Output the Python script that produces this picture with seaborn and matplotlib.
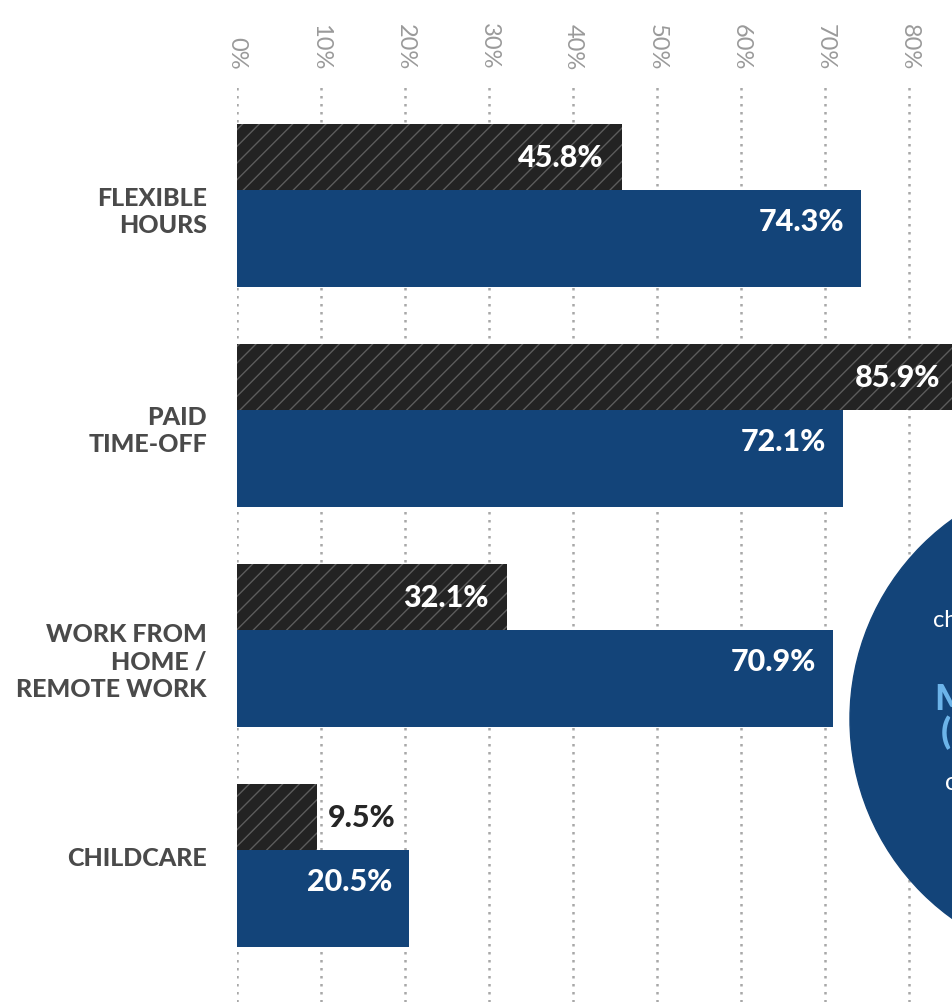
import matplotlib.pyplot as plt
import matplotlib.patches as mpatches
import numpy as np
import pandas as pd
import seaborn as sns

# values
categories = ["FLEXIBLE\nHOURS", "PAID\nTIME-OFF", "WORK FROM\nHOME /\nREMOTE WORK", "CHILDCARE"]
dark_values = [45.8, 85.9, 32.1, 9.5]
blue_values = [74.3, 72.1, 70.9, 20.5]
x_ticks = [0, 10, 20, 30, 40, 50, 60, 70, 80]

BLUE = "#134479"
DARK = "#232323"
LIGHT_BLUE = "#6cb4e9"

sns.set_theme(style="white")
plt.rcParams["font.family"] = ["Lato", "DejaVu Sans"]
plt.rcParams["hatch.linewidth"] = 1.0

W, H = 953, 1003
PX_PER_ROW = 220
fig = plt.figure(figsize=(W / 100, H / 100), dpi=100)
# axes: 0% at x=237px, 84px per 10%, top edge at y=88px
ax = fig.add_axes([237 / W, 0, 756 / W, 915 / H])

pos = np.arange(len(categories))
dark_df = pd.DataFrame({"value": dark_values, "pos": pos - 0.2205})
blue_df = pd.DataFrame({"value": blue_values, "pos": pos + 0.15})

sns.barplot(data=dark_df, x="value", y="pos", orient="y", native_scale=True,
            width=0.3, color=DARK, saturation=1, hatch="//", edgecolor="#5c5c5c",
            linewidth=0, errorbar=None, ax=ax)
sns.barplot(data=blue_df, x="value", y="pos", orient="y", native_scale=True,
            width=0.441, color=BLUE, saturation=1, linewidth=0, errorbar=None, ax=ax)

label_kw = dict(textcoords="offset points", va="center", fontsize=22,
                fontweight="black", annotation_clip=False)
for v, p in zip(dark_df["value"], dark_df["pos"]):
    if v > 20:
        ax.annotate(f"{v:.1f}%", xy=(v, p), xytext=(-13, 0), ha="right", color="white", **label_kw)
    else:
        ax.annotate(f"{v:.1f}%", xy=(v, p), xytext=(8, 0), ha="left", color="#262626", **label_kw)
for v, p in zip(blue_df["value"], blue_df["pos"]):
    ax.annotate(f"{v:.1f}%", xy=(v, p - 0.0805), xytext=(-12, 0), ha="right",
                color="white", **label_kw)

ax.set_xlim(0, 90)
ax.set_ylim(-0.5386 + 915 / PX_PER_ROW, -0.5386)

ax.xaxis.tick_top()
ax.set_xticks(x_ticks)
ax.set_xticklabels([f"{t}%" for t in x_ticks], rotation=270, fontsize=17,
                   color="#9a9a9a", fontweight="normal")
ax.tick_params(axis="x", length=0, pad=13)

# category labels sit slightly off the group centre in the original
label_shift_px = np.array([1.5, 0.5, 11.5, -9.5])
ax.set_yticks(pos + label_shift_px / PX_PER_ROW)
ax.set_yticklabels(categories, fontsize=18, fontweight="black", color="#4a4a4a",
                   linespacing=1.22)
ax.tick_params(axis="y", length=0, pad=21.6)
ax.set_xlabel("")
ax.set_ylabel("")
sns.despine(ax=ax, left=True, bottom=True, top=True, right=True)

ax.set_axisbelow(True)
ax.grid(True, axis="x", color="#a8a8a8", linestyle=(0, (1, 2.2)), linewidth=1.8)
ax.grid(False, axis="y")

# callout circle cut by the right edge, as in the original
circle = mpatches.Circle((10.957, (H - 720) / 100), 2.457, transform=fig.dpi_scale_trans,
                         color=BLUE, zorder=5)
fig.add_artist(circle)
fig.text(933 / W, 1 - 627 / H, "changed their", color="white", fontsize=17,
         fontweight="normal", zorder=6)
fig.text(934 / W, 1 - 710 / H, "MORE", color=LIGHT_BLUE, fontsize=26,
         fontweight="black", zorder=6)
fig.text(941 / W, 1 - 744 / H, "(", color=LIGHT_BLUE, fontsize=26,
         fontweight="black", zorder=6)
fig.text(945 / W, 1 - 790 / H, "of", color="white", fontsize=18,
         fontweight="normal", zorder=6)

fig.savefig("out.png", dpi=100)
